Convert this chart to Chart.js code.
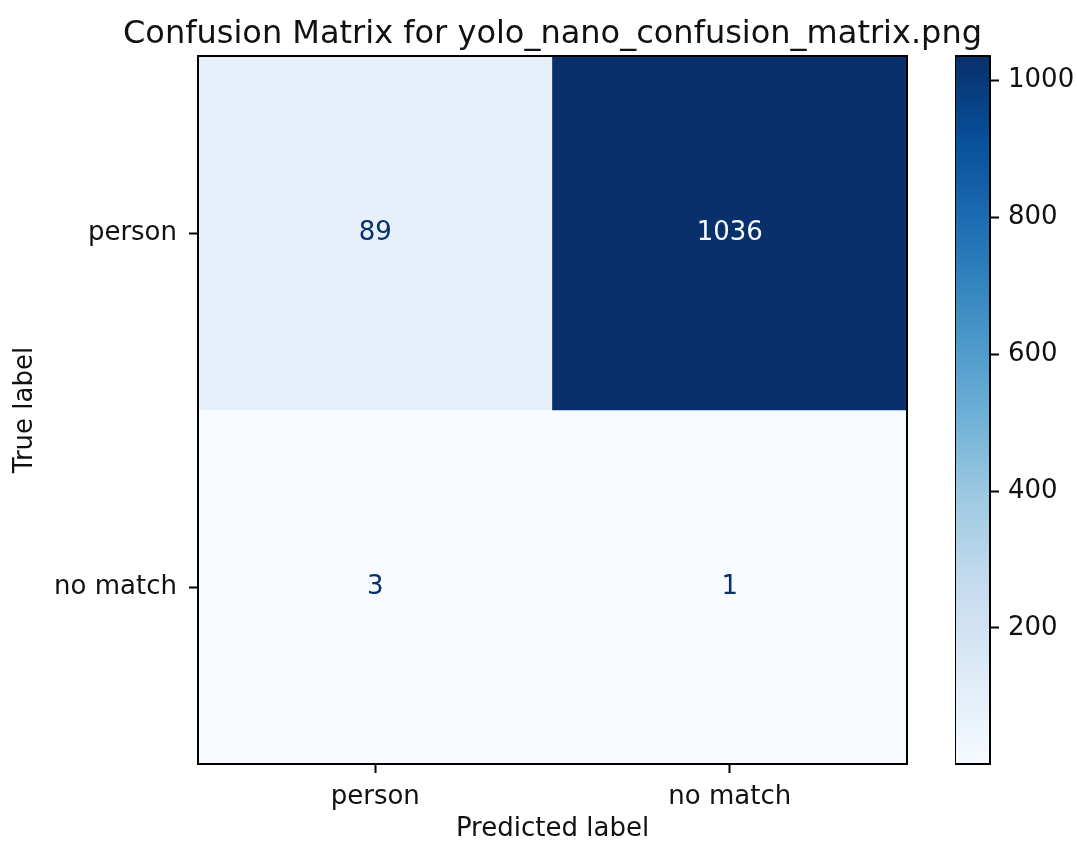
<!DOCTYPE html>
<html>
<head>
<meta charset="utf-8">
<script src="https://cdn.jsdelivr.net/npm/chart.js@4"></script>
<style>
  html, body { margin: 0; padding: 0; background: #ffffff; overflow: hidden; }
  #wrap { position: relative; width: 1077px; height: 843px; }
  canvas { position: absolute; top: 0; }
  #matrix { left: 0; }
  #colorbar { left: 955px; }
</style>
</head>
<body>
<div id="wrap">
  <canvas id="matrix" width="1077" height="843"></canvas>
  <canvas id="colorbar" width="122" height="843"></canvas>
</div>
<script>
// Confusion matrix values
const predictedLabels = ['person', 'no match'];
const trueLabels = ['person', 'no match'];
const counts = [
  [89, 1036],
  [3, 1]
];
const colorbarTicks = [200, 400, 600, 800, 1000];
const chartTitle = 'Confusion Matrix for yolo_nano_confusion_matrix.png';

const FONT = 'DejaVu Sans';
const INK = '#111111';
const LABEL_SIZE = 26;

// "Blues" sequential colormap
const BLUES = ['#f7fbff', '#deebf7', '#c6dbef', '#9ecae1', '#6baed6', '#4292c6', '#2171b5', '#08519c', '#08306b'];
function hexToRgb(h) {
  return [parseInt(h.slice(1, 3), 16), parseInt(h.slice(3, 5), 16), parseInt(h.slice(5, 7), 16)];
}
function blues(t) {
  t = Math.min(1, Math.max(0, t));
  const pos = t * (BLUES.length - 1);
  const i = Math.min(BLUES.length - 2, Math.floor(pos));
  const f = pos - i;
  const a = hexToRgb(BLUES[i]), b = hexToRgb(BLUES[i + 1]);
  const c = a.map((v, k) => Math.round(v + (b[k] - v) * f));
  return `rgb(${c[0]},${c[1]},${c[2]})`;
}

const flat = counts.flat();
const vmin = Math.min(...flat);
const vmax = Math.max(...flat);
const norm = v => (v - vmin) / (vmax - vmin);
const threshold = (vmin + vmax) / 2;

// Frame around the plotting area
const framePlugin = {
  id: 'frame',
  afterDraw(chart) {
    const { ctx, chartArea: a } = chart;
    ctx.save();
    ctx.strokeStyle = '#000';
    ctx.lineWidth = 2;
    ctx.strokeRect(a.left, a.top, a.right - a.left, a.bottom - a.top);
    ctx.restore();
  }
};

// Heading centred over the plotting area
const headingPlugin = {
  id: 'heading',
  afterDraw(chart) {
    const { ctx, chartArea: a } = chart;
    ctx.save();
    ctx.font = `32px "${FONT}"`;
    ctx.fillStyle = INK;
    ctx.textAlign = 'center';
    ctx.textBaseline = 'alphabetic';
    ctx.fillText(chartTitle, (a.left + a.right) / 2, 43);
    ctx.restore();
  }
};

// Count written in the middle of each cell
const cellTextPlugin = {
  id: 'cellText',
  afterDatasetsDraw(chart) {
    const { ctx, scales } = chart;
    ctx.save();
    ctx.font = `${LABEL_SIZE}px "${FONT}"`;
    ctx.textAlign = 'center';
    ctx.textBaseline = 'middle';
    counts.forEach((row, r) => {
      row.forEach((v, c) => {
        const x = scales.x.getPixelForValue(c);
        const y = scales.y.getPixelForValue(r + 0.5);
        ctx.fillStyle = v < threshold ? BLUES[BLUES.length - 1] : BLUES[0];
        ctx.fillText(String(v), x, y);
      });
    });
    ctx.restore();
  }
};

const matrixData = {
  labels: predictedLabels,
  datasets: trueLabels.map((lab, r) => ({
    label: lab,
    data: predictedLabels.map(() => [r, r + 1]),
    backgroundColor: counts[r].map(v => blues(norm(v))),
    borderWidth: 0,
    grouped: false,
    barPercentage: 1,
    categoryPercentage: 1
  }))
};

new Chart(document.getElementById('matrix'), {
  type: 'bar',
  data: matrixData,
  plugins: [framePlugin, cellTextPlugin, headingPlugin],
  options: {
    responsive: false,
    animation: false,
    layout: { padding: { left: 0, right: 170, top: 56, bottom: 0 } },
    plugins: {
      legend: { display: false },
      tooltip: { enabled: false },
      title: { display: false }
    },
    scales: {
      x: {
        type: 'category',
        offset: true,
        border: { display: false },
        grid: { display: true, offset: false, drawOnChartArea: false, drawTicks: true, tickLength: 9, tickWidth: 2, color: '#000' },
        ticks: { color: INK, padding: 9, font: { family: FONT, size: LABEL_SIZE }, maxRotation: 0 },
        title: { display: true, text: 'Predicted label', color: INK, font: { family: FONT, size: LABEL_SIZE, lineHeight: 1 }, padding: { top: 0, bottom: 1 } },
        afterFit(scale) { scale.height = 79; }
      },
      y: {
        type: 'linear',
        min: 0,
        max: trueLabels.length,
        reverse: true,
        border: { display: false },
        grid: { display: true, drawOnChartArea: false, drawTicks: true, tickLength: 9, tickWidth: 2, color: '#000' },
        ticks: {
          color: INK,
          padding: 12,
          font: { family: FONT, size: LABEL_SIZE },
          callback: v => trueLabels[Math.floor(v)]
        },
        afterBuildTicks(scale) {
          scale.ticks = trueLabels.map((_, i) => ({ value: i + 0.5 }));
        },
        title: { display: true, text: 'True label', color: INK, font: { family: FONT, size: LABEL_SIZE, lineHeight: 1 }, padding: { top: 12, bottom: 0 } },
        afterFit(scale) { scale.width = 198; }
      }
    }
  }
});

// Colour bar: a single floating bar spanning the value range, filled with the colormap
new Chart(document.getElementById('colorbar'), {
  type: 'bar',
  data: {
    labels: ['counts'],
    datasets: [{
      data: [[vmin, vmax]],
      borderWidth: 0,
      barPercentage: 1,
      categoryPercentage: 1,
      backgroundColor(context) {
        const area = context.chart.chartArea;
        if (!area) return BLUES[0];
        const g = context.chart.ctx.createLinearGradient(0, area.bottom, 0, area.top);
        BLUES.forEach((c, i) => g.addColorStop(i / (BLUES.length - 1), c));
        return g;
      }
    }]
  },
  plugins: [{ id: 'cbFrame', afterDraw: framePlugin.afterDraw }],
  options: {
    responsive: false,
    animation: false,
    layout: { padding: { left: 0, right: 0, top: 56, bottom: 79 } },
    plugins: { legend: { display: false }, tooltip: { enabled: false }, title: { display: false } },
    scales: {
      x: { display: false },
      y: {
        type: 'linear',
        position: 'right',
        min: vmin,
        max: vmax,
        border: { display: false },
        grid: { display: true, drawOnChartArea: false, drawTicks: true, tickLength: 9, tickWidth: 2, color: '#000' },
        ticks: { color: INK, padding: 9, font: { family: FONT, size: LABEL_SIZE }, callback: v => String(v) },
        afterBuildTicks(scale) {
          scale.ticks = colorbarTicks.map(v => ({ value: v }));
        },
        afterFit(scale) { scale.width = 87; }
      }
    }
  }
});
</script>
</body>
</html>
